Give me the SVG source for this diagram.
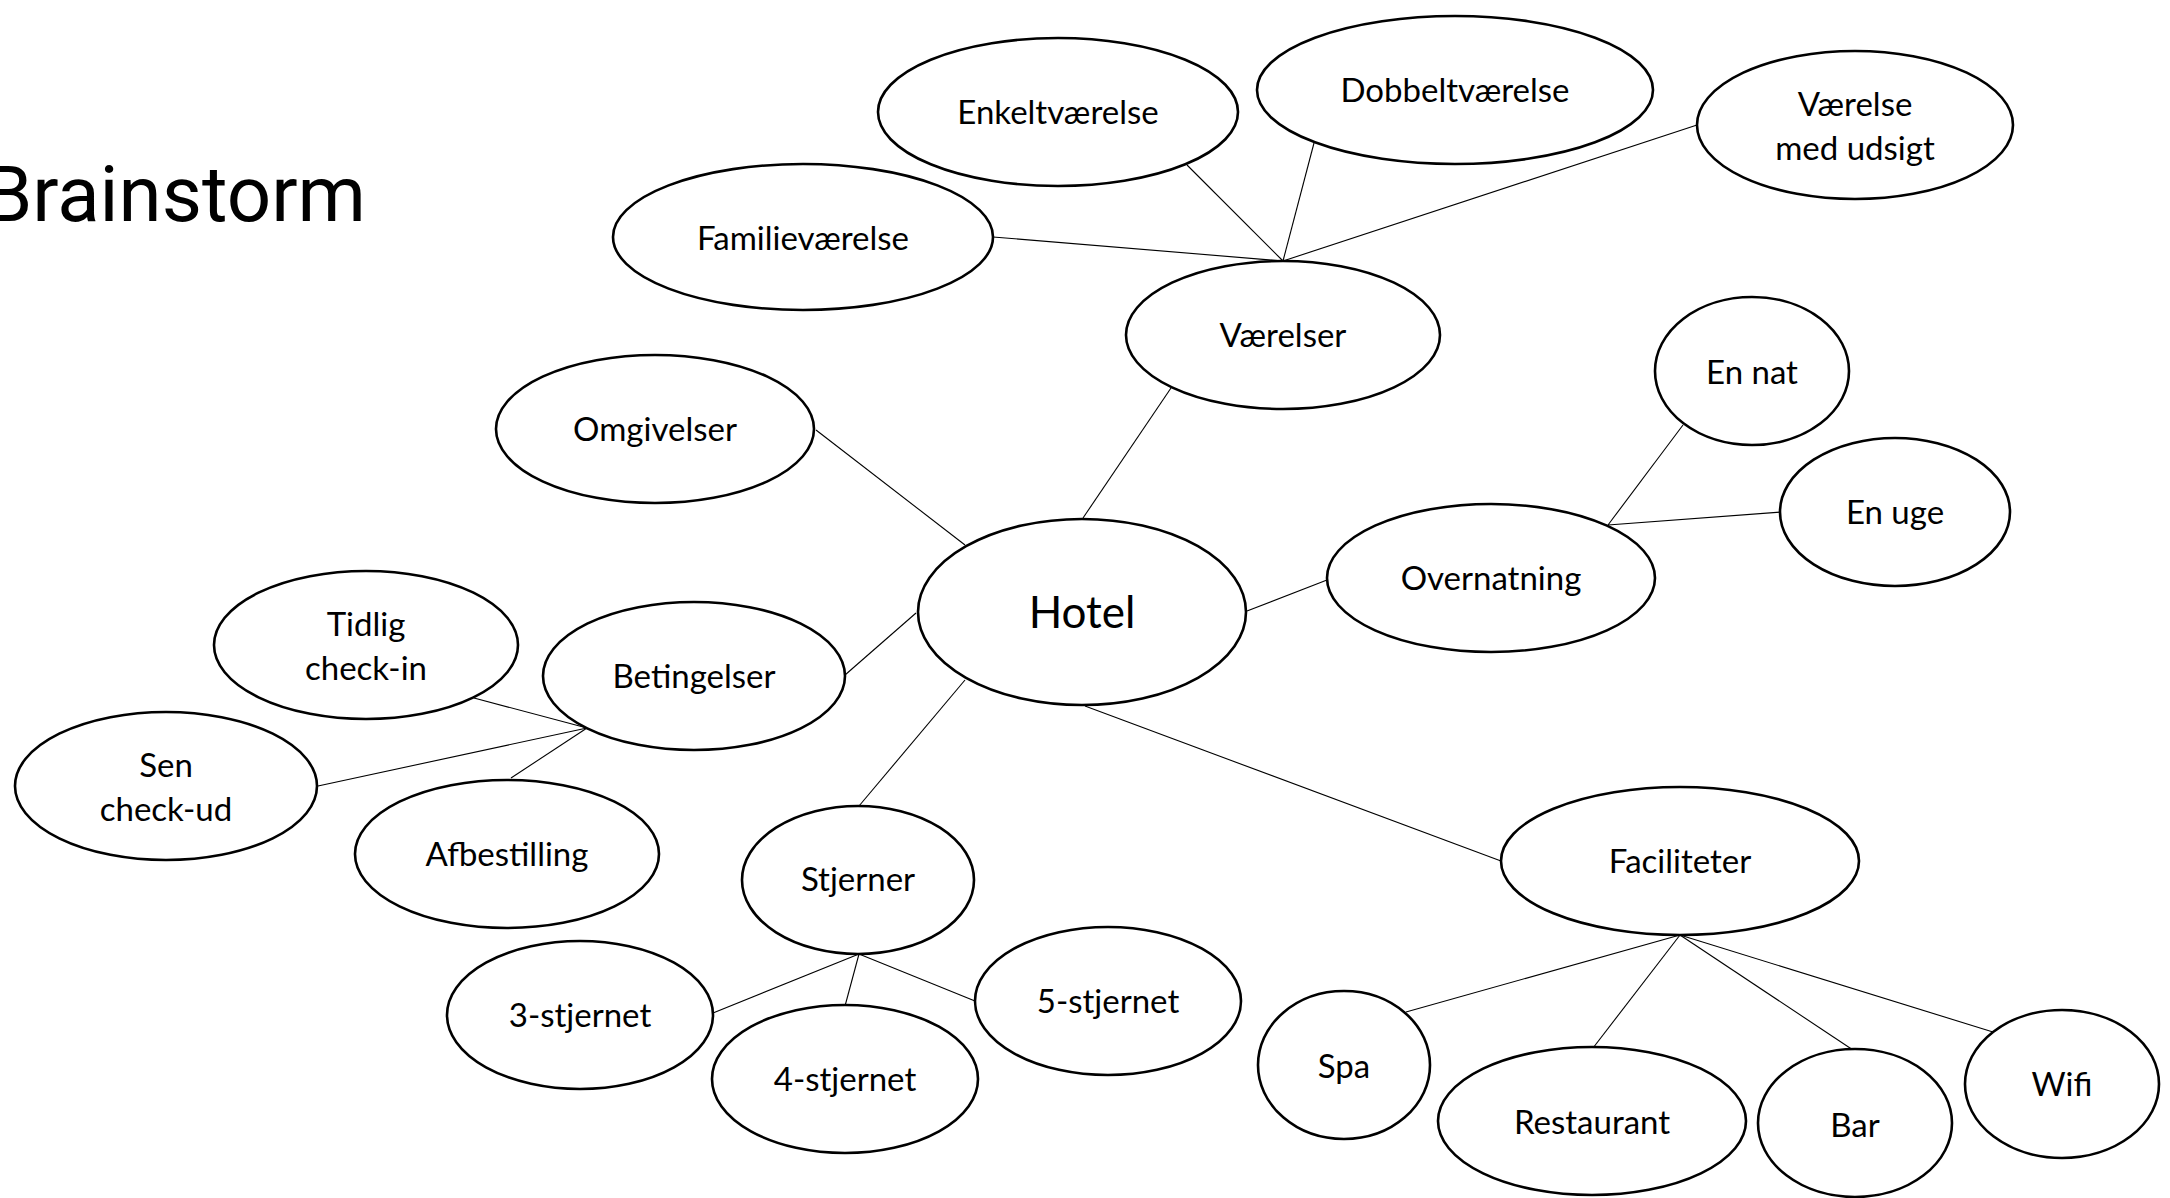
<svg xmlns="http://www.w3.org/2000/svg" width="2170" height="1198" viewBox="0 0 2170 1198">
<style>
  .n ellipse { fill: #ffffff; stroke: #000000; stroke-width: 2.6; }
  .n text { font-family: Lato, "Open Sans", "Liberation Sans", sans-serif; font-size: 33px; fill: #000000; text-anchor: middle; }
  #hotel text { font-size: 44px; }
  #connectors line { stroke: #000000; stroke-width: 1.1; fill: none; }
  .title { font-family: Roboto, "Liberation Sans", sans-serif; font-size: 78px; fill: #000000; }
</style>
<rect x="0" y="0" width="2170" height="1198" fill="#ffffff"/>
<text class="title" x="366" y="221" text-anchor="end">Brainstorm</text>

<g id="connectors">
  <line x1="993" y1="237" x2="1283" y2="261"/>
  <line x1="1187" y1="165" x2="1283" y2="261"/>
  <line x1="1314" y1="143" x2="1283" y2="261"/>
  <line x1="1697" y1="125" x2="1283" y2="261"/>
  <line x1="1171" y1="388" x2="1083" y2="518"/>
  <line x1="816" y1="430" x2="965" y2="545"/>
  <line x1="1247" y1="611" x2="1327" y2="580"/>
  <line x1="1683" y1="425" x2="1608" y2="525"/>
  <line x1="1781" y1="512" x2="1608" y2="525"/>
  <line x1="916" y1="613" x2="845" y2="675"/>
  <line x1="474" y1="698" x2="587" y2="728"/>
  <line x1="318" y1="786" x2="587" y2="728"/>
  <line x1="511" y1="778" x2="587" y2="728"/>
  <line x1="965" y1="680" x2="859" y2="806"/>
  <line x1="713" y1="1013" x2="859" y2="954"/>
  <line x1="845" y1="1006" x2="859" y2="954"/>
  <line x1="975" y1="1001" x2="859" y2="954"/>
  <line x1="1085" y1="706" x2="1501" y2="861"/>
  <line x1="1406" y1="1012" x2="1680" y2="935"/>
  <line x1="1593" y1="1048" x2="1680" y2="935"/>
  <line x1="1853" y1="1050" x2="1680" y2="935"/>
  <line x1="1993" y1="1032" x2="1680" y2="935"/>
</g>

<g id="enkeltvaerelse" class="n"><ellipse cx="1058" cy="112" rx="180" ry="74"/><text x="1058" y="124">Enkeltværelse</text></g>
<g id="dobbeltvaerelse" class="n"><ellipse cx="1455" cy="90" rx="198" ry="74"/><text x="1455" y="102">Dobbeltværelse</text></g>
<g id="vaerelse-udsigt" class="n"><ellipse cx="1855" cy="125" rx="158" ry="74"/><text x="1855" y="116">Værelse</text><text x="1855" y="160">med udsigt</text></g>
<g id="familievaerelse" class="n"><ellipse cx="803" cy="237" rx="190" ry="73"/><text x="803" y="250">Familieværelse</text></g>
<g id="vaerelser" class="n"><ellipse cx="1283" cy="335" rx="157" ry="74"/><text x="1283" y="347">Værelser</text></g>
<g id="omgivelser" class="n"><ellipse cx="655" cy="429" rx="159" ry="74"/><text x="655" y="441">Omgivelser</text></g>
<g id="en-nat" class="n"><ellipse cx="1752" cy="371" rx="97" ry="74"/><text x="1752" y="384">En nat</text></g>
<g id="en-uge" class="n"><ellipse cx="1895" cy="512" rx="115" ry="74"/><text x="1895" y="524">En uge</text></g>
<g id="overnatning" class="n"><ellipse cx="1491" cy="578" rx="164" ry="74"/><text x="1491" y="590">Overnatning</text></g>
<g id="hotel" class="n"><ellipse cx="1082" cy="612" rx="164" ry="93"/><text x="1082" y="628">Hotel</text></g>
<g id="tidlig-checkin" class="n"><ellipse cx="366" cy="645" rx="152" ry="74"/><text x="366" y="636">Tidlig</text><text x="366" y="680">check-in</text></g>
<g id="betingelser" class="n"><ellipse cx="694" cy="676" rx="151" ry="74"/><text x="694" y="688">Betingelser</text></g>
<g id="sen-checkud" class="n"><ellipse cx="166" cy="786" rx="151" ry="74"/><text x="166" y="777">Sen</text><text x="166" y="821">check-ud</text></g>
<g id="afbestilling" class="n"><ellipse cx="507" cy="854" rx="152" ry="74"/><text x="507" y="866">Afbestilling</text></g>
<g id="stjerner" class="n"><ellipse cx="858" cy="880" rx="116" ry="74"/><text x="858" y="891">Stjerner</text></g>
<g id="faciliteter" class="n"><ellipse cx="1680" cy="861" rx="179" ry="74"/><text x="1680" y="873">Faciliteter</text></g>
<g id="tre-stjernet" class="n"><ellipse cx="580" cy="1015" rx="133" ry="74"/><text x="580" y="1027">3-stjernet</text></g>
<g id="fire-stjernet" class="n"><ellipse cx="845" cy="1079" rx="133" ry="74"/><text x="845" y="1091">4-stjernet</text></g>
<g id="fem-stjernet" class="n"><ellipse cx="1108" cy="1001" rx="133" ry="74"/><text x="1108" y="1013">5-stjernet</text></g>
<g id="spa" class="n"><ellipse cx="1344" cy="1065" rx="86" ry="74"/><text x="1344" y="1078">Spa</text></g>
<g id="restaurant" class="n"><ellipse cx="1592" cy="1121" rx="154" ry="74"/><text x="1592" y="1134">Restaurant</text></g>
<g id="bar" class="n"><ellipse cx="1855" cy="1123" rx="97" ry="74"/><text x="1855" y="1137">Bar</text></g>
<g id="wifi" class="n"><ellipse cx="2062" cy="1084" rx="97" ry="74"/><text x="2062" y="1096">Wifi</text></g>
</svg>
